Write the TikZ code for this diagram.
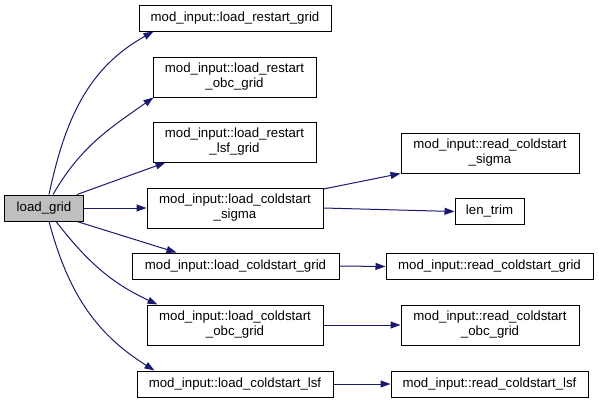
\documentclass[tikz,border=0pt]{standalone}
\usepackage{fontspec}
\setmainfont{Liberation Sans}
\usetikzlibrary{arrows.meta}
\definecolor{edgeblue}{HTML}{191970}
\tikzset{
  fn/.style 2 args={draw=black,fill=white,line width=1bp,inner sep=0pt,align=center,
    minimum width=#1bp,minimum height=#2bp,font=\fontsize{13.3}{15}\selectfont},
  call/.style={->,draw=edgeblue,line width=1bp},
}
\begin{document}
\begin{tikzpicture}[x=1bp,y=-1bp,>={Triangle[length=10bp,width=7bp,fill=edgeblue]}]
\useasboundingbox (0,0) rectangle (599,403);
% caller
\node[fn={78}{26},fill=gray!50] (load_grid) at (44,208) {load\_grid};
% first level
\node[fn={192}{26}] (restart_grid) at (235,18) {mod\_input::load\_restart\_grid};
\node[fn={163}{40}] (restart_obc) at (234.5,77) {mod\_input::load\_restart\\\_obc\_grid};
\node[fn={163}{40}] (restart_lsf) at (234.5,142) {mod\_input::load\_restart\\\_lsf\_grid};
\node[fn={176}{40}] (cold_sigma) at (235,208) {mod\_input::load\_coldstart\\\_sigma};
\node[fn={207}{26}] (cold_grid) at (235.5,266) {mod\_input::load\_coldstart\_grid};
\node[fn={176}{40}] (cold_obc) at (235,325) {mod\_input::load\_coldstart\\\_obc\_grid};
\node[fn={196}{26}] (cold_lsf) at (235,384) {mod\_input::load\_coldstart\_lsf};
% second level
\node[fn={178}{40}] (read_sigma) at (490,153) {mod\_input::read\_coldstart\\\_sigma};
\node[fn={69}{26}] (len_trim) at (489.5,211.5) {len\_trim};
\node[fn={207}{26}] (read_grid) at (489.5,266.5) {mod\_input::read\_coldstart\_grid};
\node[fn={178}{40}] (read_obc) at (490,325) {mod\_input::read\_coldstart\\\_obc\_grid};
\node[fn={197}{26}] (read_lsf) at (489.5,384) {mod\_input::read\_coldstart\_lsf};

\draw[call] ([xshift=5bp]load_grid.north) to[out=78,in=209] ([xshift=15bp]restart_grid.south west);
\draw[call] ([xshift=9bp]load_grid.north) to[out=60,in=215] ([xshift=1bp]restart_obc.south west);
\draw[call] ([xshift=33bp]load_grid.north) -- ([xshift=13bp]restart_lsf.south west);
\draw[call] (load_grid.east) -- (cold_sigma.west);
\draw[call] ([xshift=33bp]load_grid.south) -- ([xshift=45bp]cold_grid.north west);
\draw[call] ([xshift=12bp]load_grid.south) to[out=-52,in=155] ([xshift=11bp]cold_obc.north west);
\draw[call] ([xshift=5bp]load_grid.south) to[out=-75,in=148] ([xshift=18bp]cold_lsf.north west);

\draw[call] ([yshift=19bp]cold_sigma.east) -- (read_sigma.south west);
\draw[call] (cold_sigma.east) -- (len_trim.west);
\draw[call] (cold_grid.east) -- (read_grid.west);
\draw[call] (cold_obc.east) -- (read_obc.west);
\draw[call] (cold_lsf.east) -- (read_lsf.west);
\end{tikzpicture}
\end{document}
